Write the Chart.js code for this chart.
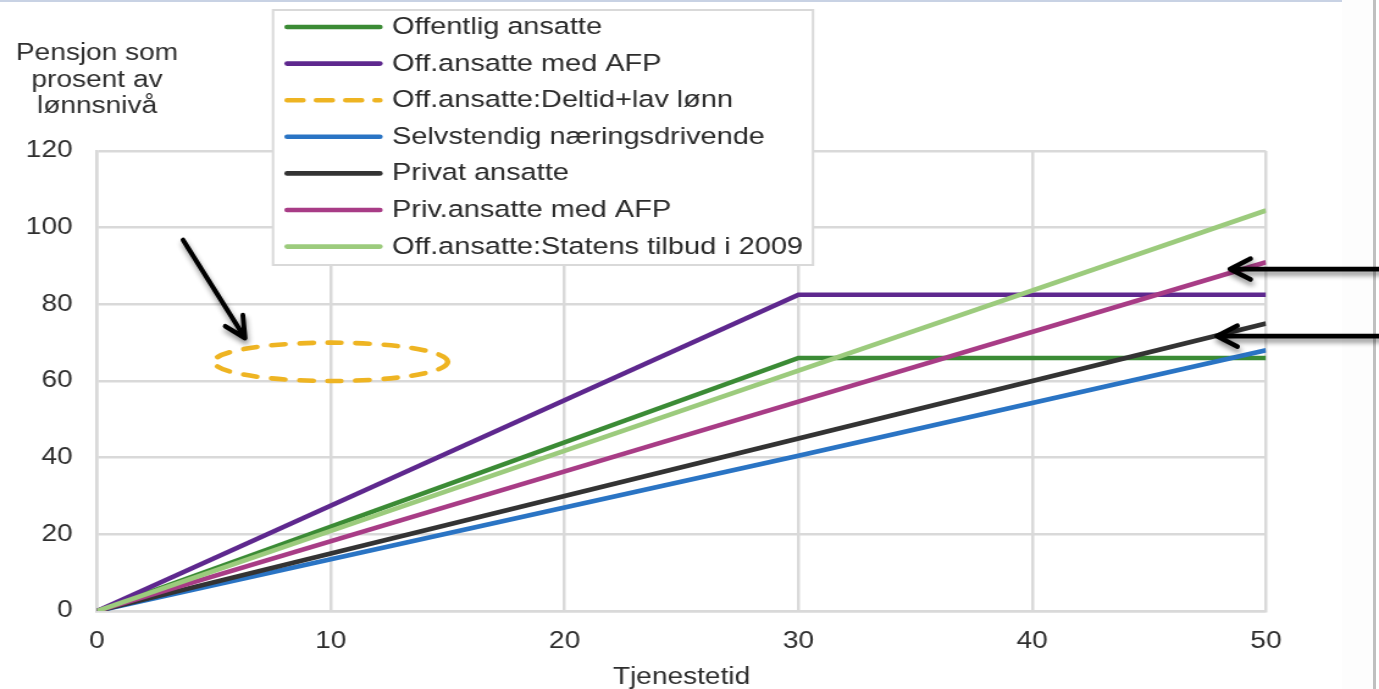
<!DOCTYPE html>
<html>
<head>
<meta charset="utf-8">
<title>Pensjon som prosent av lønnsnivå</title>
<script src="https://cdn.jsdelivr.net/npm/chart.js@4.4.1/dist/chart.umd.min.js"></script>
<style>
  html, body { margin: 0; padding: 0; background: #fff; }
  #frame { position: relative; width: 1379px; height: 689px; overflow: hidden; background: #fff; }
  #sideFill { position: absolute; left: 1342px; top: 0; width: 31px; height: 689px; background: #fdfdfd; }
  #topRule { position: absolute; left: 0; top: 0; width: 1342px; height: 2px; background: #c8d2e4; }
  #sideBar { position: absolute; left: 1373px; top: 0; width: 3px; height: 689px; background: #bfbfbf; }
  /* the chart is laid out on a narrower canvas and widened horizontally */
  #chart { position: absolute; left: 0; top: 0; transform-origin: 0 0; transform: scaleX(1.220354); }
</style>
</head>
<body>
<div id="frame">
  <div id="sideFill"></div>
  <div id="topRule"></div>
  <div id="sideBar"></div>
  <canvas id="chart" width="1130" height="689"></canvas>
</div>
<script>
// Years of service (Tjenestetid)
const tenure = [0, 30, 50];

// Pension as percent of wage level, per group
const offentlig      = [0, 66, 66];
const offAfp         = [0, 82.5, 82.5];
const deltidLavLonn  = [];
const selvstendig    = [0, 40.5, 68];
const privat         = [0, 45, 75];
const privAfp        = [0, 54.6, 91];
const statensTilbud  = [0, 62.7, 104.5];

const seriesLabels = [
  'Offentlig ansatte',
  'Off.ansatte med AFP',
  'Off.ansatte:Deltid+lav lønn',
  'Selvstendig næringsdrivende',
  'Privat ansatte',
  'Priv.ansatte med AFP',
  'Off.ansatte:Statens tilbud i 2009'
];

// Axis ticks
const xTicks = [0, 10, 20, 30, 40, 50];
const yTicks = [0, 20, 40, 60, 80, 100, 120];

// Axis titles
const yTitleLines = ['Pensjon som', 'prosent av', 'lønnsnivå'];
const xTitle = 'Tjenestetid';

// Highlight ring around the part-time / low-wage group (data units)
const ringCenter = { x: 10, y: 65 };
const ringRadius = { x: 5, y: 5 };

// Callout arrows (data units): tail -> tip
const arrows = [
  { from: { x: 3.68, y: 96.8 }, to: { x: 6.33, y: 71.2 } },
  { from: { x: 54.9, y: 89.2 }, to: { x: 48.46, y: 89.2 } },
  { from: { x: 54.9, y: 71.7 }, to: { x: 47.9, y: 71.7 } }
];

const STRETCH = 1379 / 1130;
const FONT = "'Liberation Sans', Arial, Helvetica, sans-serif";
const TEXT = '#2e2e2e';
const GRID = '#d9d9d9';

const colors = ['#3b8b35', '#5e288e', '#eeb422', '#2a74c4', '#333333', '#a83c86', '#9ccb7d'];
const seriesValues = [offentlig, offAfp, deltidLavLonn, selvstendig, privat, privAfp, statensTilbud];

const datasets = seriesLabels.map((label, i) => ({
  label,
  data: seriesValues[i].map((v, k) => ({ x: tenure[k], y: v })),
  borderColor: colors[i],
  backgroundColor: colors[i],
  borderWidth: 4.6,
  borderDash: i === 2 ? [14, 10] : [],
  pointRadius: 0,
  fill: false,
  tension: 0,
  order: seriesLabels.length - i
}));

const decorations = {
  id: 'decorations',
  afterDatasetsDraw(chart) {
    const ctx = chart.ctx;
    const xs = chart.scales.x, ys = chart.scales.y;

    // dashed highlight ellipse
    const cx = xs.getPixelForValue(ringCenter.x);
    const cy = ys.getPixelForValue(ringCenter.y);
    const rx = Math.abs(xs.getPixelForValue(ringCenter.x + ringRadius.x) - cx);
    const ry = Math.abs(ys.getPixelForValue(ringCenter.y + ringRadius.y) - cy);
    ctx.save();
    ctx.beginPath();
    ctx.ellipse(cx, cy, rx, ry, 0, 0, Math.PI * 2);
    ctx.strokeStyle = colors[2];
    ctx.lineWidth = 4.6;
    ctx.lineCap = 'round';
    ctx.setLineDash([11, 12]);
    ctx.stroke();
    ctx.restore();
  },
  afterDraw(chart) {
    const ctx = chart.ctx;
    const xs = chart.scales.x, ys = chart.scales.y;
    const ca = chart.chartArea;

    // legend box
    const box = { left: 223.7, top: 10, right: 666.2, bottom: 265 };
    ctx.save();
    ctx.fillStyle = '#ffffff';
    ctx.fillRect(box.left, box.top, box.right - box.left, box.bottom - box.top);
    ctx.strokeStyle = GRID;
    ctx.lineWidth = 2;
    ctx.strokeRect(box.left, box.top, box.right - box.left, box.bottom - box.top);
    ctx.font = '23.7px ' + FONT;
    ctx.textBaseline = 'middle';
    ctx.textAlign = 'left';
    chart.data.datasets.forEach((ds, i) => {
      const y = 27 + i * 36.6;
      ctx.beginPath();
      ctx.moveTo(235.3, y);
      ctx.lineTo(311.3, y);
      ctx.strokeStyle = ds.borderColor;
      ctx.lineWidth = 4.6;
      ctx.lineCap = 'round';
      ctx.setLineDash(ds.borderDash.length ? [13, 11] : []);
      ctx.stroke();
      ctx.setLineDash([]);
      ctx.fillStyle = '#2b2b2b';
      ctx.fillText(ds.label, 321.3, y + 0.5);
    });
    ctx.restore();

    // y axis title above the axis
    ctx.save();
    ctx.font = '23px ' + FONT;
    ctx.fillStyle = TEXT;
    ctx.textAlign = 'center';
    ctx.textBaseline = 'alphabetic';
    yTitleLines.forEach((line, i) => ctx.fillText(line, ca.left, 60 + i * 26.5));
    ctx.restore();

    // callout arrows, drawn in unstretched pixel space
    ctx.save();
    ctx.scale(1 / STRETCH, 1);
    ctx.strokeStyle = '#000000';
    ctx.lineWidth = 4.8;
    ctx.lineCap = 'round';
    ctx.lineJoin = 'round';
    ctx.shadowColor = 'rgba(0,0,0,0.45)';
    ctx.shadowBlur = 5;
    ctx.shadowOffsetX = 1;
    ctx.shadowOffsetY = 4;
    arrows.forEach(a => {
      const x1 = xs.getPixelForValue(a.from.x) * STRETCH, y1 = ys.getPixelForValue(a.from.y);
      const x2 = xs.getPixelForValue(a.to.x) * STRETCH, y2 = ys.getPixelForValue(a.to.y);
      const ang = Math.atan2(y2 - y1, x2 - x1);
      const len = 23, spread = 0.47;
      ctx.beginPath();
      ctx.moveTo(x1, y1);
      ctx.lineTo(x2, y2);
      ctx.moveTo(x2 - len * Math.cos(ang - spread), y2 - len * Math.sin(ang - spread));
      ctx.lineTo(x2, y2);
      ctx.lineTo(x2 - len * Math.cos(ang + spread), y2 - len * Math.sin(ang + spread));
      ctx.stroke();
    });
    ctx.restore();
  }
};

new Chart(document.getElementById('chart'), {
  type: 'line',
  data: { datasets },
  options: {
    responsive: false,
    animation: false,
    events: [],
    devicePixelRatio: 1,
    layout: { padding: { left: 0, top: 151, right: 1130 - 1266 / STRETCH, bottom: 0 } },
    plugins: { legend: { display: false }, tooltip: { enabled: false }, title: { display: false } },
    scales: {
      x: {
        type: 'linear',
        min: 0, max: 50,
        afterBuildTicks: s => { s.ticks = xTicks.map(v => ({ value: v })); },
        afterFit: s => { s.height = 78; },
        grid: { color: GRID, lineWidth: 2.5, drawTicks: false },
        border: { display: true, color: GRID, width: 2.5 },
        ticks: { color: TEXT, font: { family: FONT, size: 23 }, padding: 17, maxRotation: 0 },
        title: { display: true, text: xTitle, color: TEXT, font: { family: FONT, size: 23, lineHeight: 1 }, padding: { top: 0, bottom: 0 } }
      },
      y: {
        type: 'linear',
        min: 0, max: 120,
        afterBuildTicks: s => { s.ticks = yTicks.map(v => ({ value: v })); },
        afterFit: s => { s.width = 97 / STRETCH; },
        grid: { color: GRID, lineWidth: 2.5, drawTicks: false },
        border: { display: true, color: GRID, width: 2.5 },
        ticks: { color: TEXT, font: { family: FONT, size: 23 }, padding: 20 }
      }
    }
  },
  plugins: [decorations]
});
</script>
</body>
</html>
